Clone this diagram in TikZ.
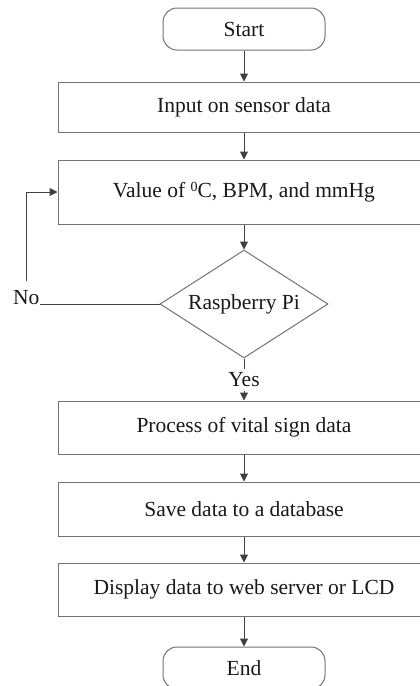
\documentclass[tikz,border=0pt]{standalone}
\usepackage{fontspec}
\setmainfont{Liberation Serif}
\usetikzlibrary{shapes.geometric,arrows.meta}
\begin{document}
\begin{tikzpicture}[x=1pt,y=-1pt,
  every node/.style={font=\fontsize{21.5}{25}\selectfont, text=black!90},
  termbox/.style={draw=black!55, line width=1pt, rounded corners=14pt, minimum width=162pt, minimum height=42pt, inner sep=0pt, fill=white},
  procbox/.style={draw=black!55, line width=1pt, minimum width=372pt, inner sep=0pt, fill=white},
  decbox/.style={draw=black!55, line width=1pt, shape=diamond, aspect=1.556, minimum width=168pt, minimum height=108pt, inner sep=0pt, fill=white},
  conn/.style={draw=black!75, line width=1pt},
  arr/.style={conn, -{Triangle[length=8pt,width=8pt]}},
  lbl/.style={inner sep=0pt}
]
\useasboundingbox (0,0) rectangle (420,686);
\clip (0,0) rectangle (420,686);
\node[termbox] (start) at (244,29) {Start};
\node[procbox, minimum height=50pt] (b1) at (244,107) {Input on sensor data};
\node[procbox, minimum height=64pt] (b2) at (244,192) {Value of \raisebox{0.6ex}{\fontsize{14}{16}\selectfont 0}C, BPM, and mmHg};
\node[decbox] (dia) at (244,304) {Raspberry Pi};
\node[lbl, inner sep=4pt] (yes) at (244,380) {Yes};
\node[procbox, minimum height=53pt] (b3) at (244,427.5) {Process of vital sign data};
\node[procbox, minimum height=54pt] (b4) at (244,509) {Save data to a database};
\node[procbox, minimum height=53pt] (b5) at (244,589.5) {Display data to web server or LCD};
\node[termbox] (end) at (244,668) {End};
\node[lbl, anchor=south west] (no) at (13,305) {No};
\draw[arr] (start) -- (b1);
\draw[arr] (b1) -- (b2);
\draw[arr] (b2) -- (dia);
\draw[conn] (dia.south) -- (yes.north);
\draw[arr] (yes.south) -- (b3.north);
\draw[arr] (b3) -- (b4);
\draw[arr] (b4) -- (b5);
\draw[arr] (b5) -- (end);
\draw[conn] (dia.west) -- (dia.west -| no.east);
\draw[arr] ([yshift=9pt]no.north) |- (b2.west);
\end{tikzpicture}
\end{document}
